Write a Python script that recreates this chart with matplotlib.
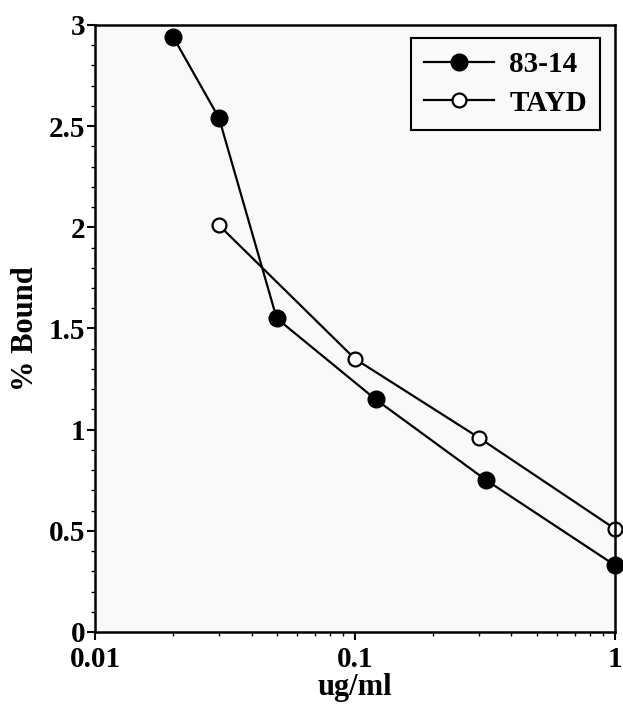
import matplotlib.pyplot as plt
from matplotlib.ticker import MultipleLocator, LogLocator, NullFormatter, FixedLocator

# Data
conc_8314 = [0.02, 0.03, 0.05, 0.12, 0.32, 1.0]
bound_8314 = [2.94, 2.54, 1.55, 1.15, 0.75, 0.33]
conc_tayd = [0.03, 0.1, 0.3, 1.0]
bound_tayd = [2.01, 1.35, 0.96, 0.51]

plt.rcParams["font.family"] = ["Liberation Serif", "DejaVu Serif"]
plt.rcParams["font.weight"] = "bold"

fig = plt.figure(figsize=(6.23, 7.04), dpi=100)
ax = fig.add_axes([0.1525, 0.1023, 0.8345, 0.8622])
ax.set_facecolor("#f9f9f9")

ax.plot(conc_8314, bound_8314, color="black", lw=1.6, marker="o", ms=12,
        markerfacecolor="black", markeredgecolor="black", label="83-14", clip_on=False)
ax.plot(conc_tayd, bound_tayd, color="black", lw=1.6, marker="o", ms=10,
        markerfacecolor="white", markeredgecolor="black", markeredgewidth=1.6,
        label="TAYD", clip_on=False)

ax.set_xscale("log")
ax.set_xlim(0.01, 1)
ax.set_ylim(0, 3)
ax.xaxis.set_major_locator(FixedLocator([0.01, 0.1, 1]))
ax.set_xticklabels(["0.01", "0.1", "1"])
ax.xaxis.set_minor_locator(LogLocator(base=10, subs=range(2, 10)))
ax.xaxis.set_minor_formatter(NullFormatter())
ax.set_yticks([0, 0.5, 1, 1.5, 2, 2.5, 3])
ax.set_yticklabels(["0", "0.5", "1", "1.5", "2", "2.5", "3"])
ax.yaxis.set_minor_locator(MultipleLocator(0.1))

ax.tick_params(which="major", direction="out", length=6, width=1.5, labelsize=21)
ax.tick_params(axis="x", which="major", pad=4)
ax.tick_params(axis="y", which="major", pad=1)
ax.tick_params(which="minor", direction="out", length=3, width=1.0)
for s in ax.spines.values():
    s.set_linewidth(1.8)

ax.set_xlabel("ug/ml", fontsize=22, fontweight="bold", labelpad=0)
ax.set_ylabel("% Bound", fontsize=22, fontweight="bold", labelpad=6)

leg = ax.legend(loc="upper right", bbox_to_anchor=(0.971, 0.979), borderaxespad=0,
                fontsize=21, frameon=True, fancybox=False, edgecolor="black",
                framealpha=1, handlelength=2.4, borderpad=0.45, labelspacing=0.4,
                handletextpad=0.5)
leg.get_frame().set_linewidth(1.5)
leg.get_frame().set_facecolor("#f9f9f9")

plt.savefig("out.png", dpi=100)
